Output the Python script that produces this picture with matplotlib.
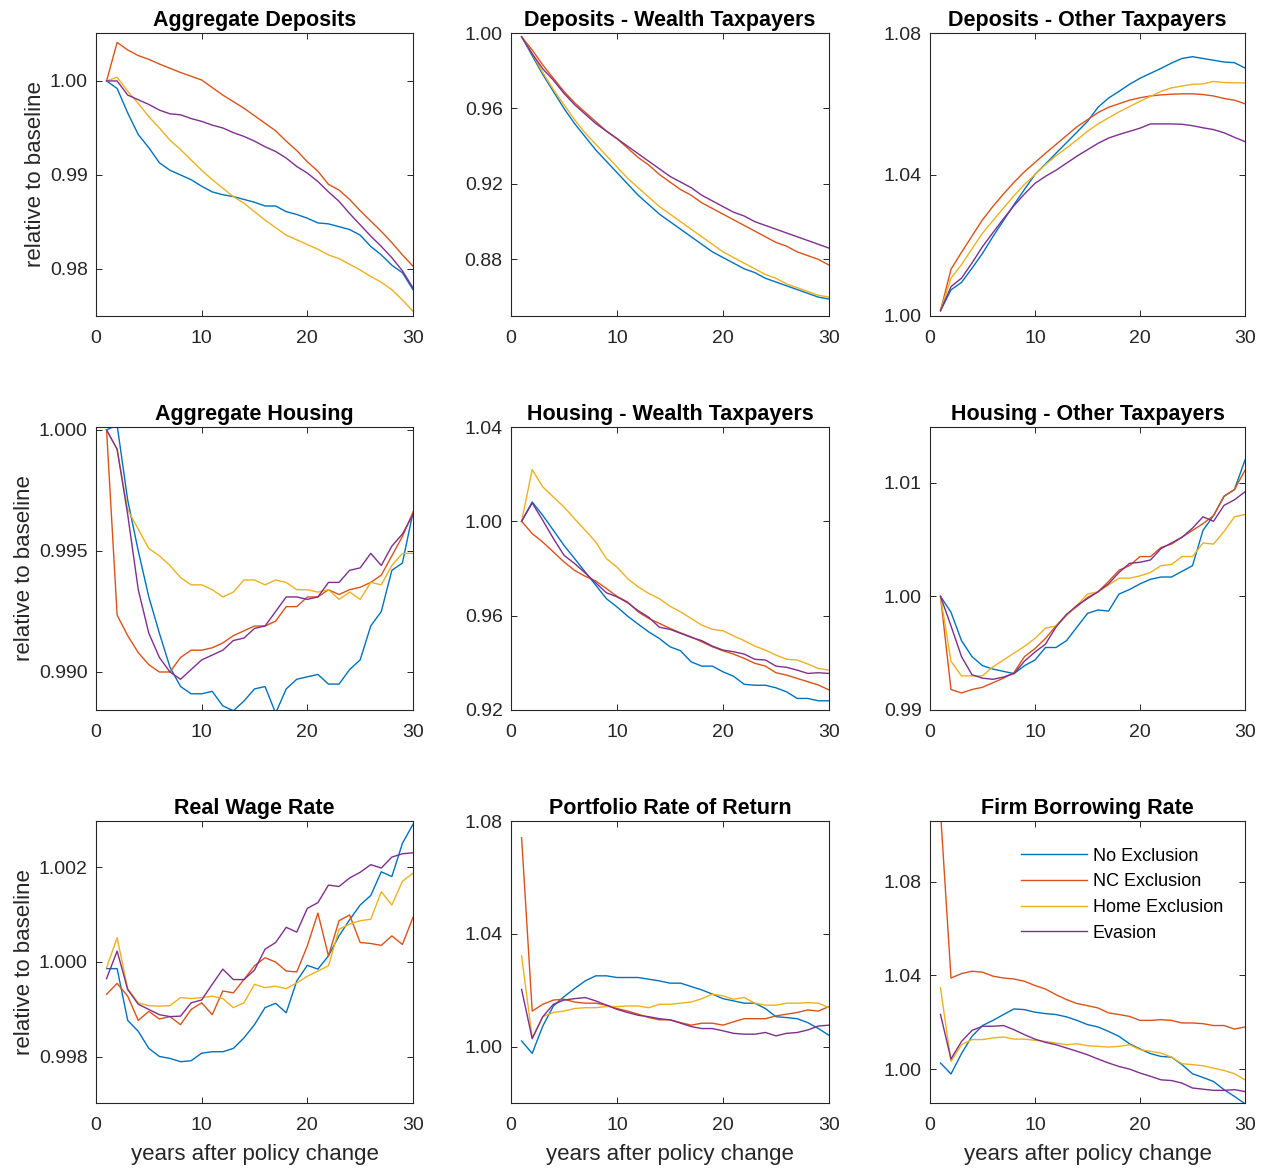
import matplotlib
matplotlib.use("Agg")
import matplotlib.pyplot as plt
from matplotlib.ticker import FormatStrFormatter

plt.rcParams['font.family'] = ['Liberation Sans', 'DejaVu Sans']

years = list(range(1, 31))
series_names = ["No Exclusion", "NC Exclusion", "Home Exclusion", "Evasion"]
colors = ["#0072BD", "#D95319", "#EDB120", "#7E2F8E"]

# ---- Aggregate Deposits ----
agg_dep_no = [1.0000, 0.9992, 0.9966, 0.9943, 0.9929, 0.9913, 0.9905, 0.9900, 0.9895, 0.9888,
              0.9882, 0.9879, 0.9877, 0.9874, 0.9871, 0.9867, 0.9867, 0.9861, 0.9858, 0.9854,
              0.9849, 0.9848, 0.9845, 0.9842, 0.9836, 0.9824, 0.9815, 0.9804, 0.9796, 0.9778]
agg_dep_nc = [1.0000, 1.0041, 1.0033, 1.0027, 1.0023, 1.0018, 1.00135, 1.0009, 1.0005, 1.0001,
              0.9993, 0.9985, 0.9978, 0.9971, 0.9963, 0.9955, 0.9947, 0.9936, 0.9926, 0.9914,
              0.9904, 0.9890, 0.9884, 0.9874, 0.9862, 0.9851, 0.9840, 0.9828, 0.9815, 0.9803]
agg_dep_home = [1.0000, 1.0004, 0.9989, 0.9976, 0.9962, 0.9950, 0.9937, 0.9927, 0.9916, 0.9905,
                0.9895, 0.9886, 0.9877, 0.9870, 0.9861, 0.9852, 0.9844, 0.9836, 0.9831, 0.9826,
                0.9821, 0.9815, 0.9811, 0.9805, 0.9799, 0.9792, 0.9786, 0.9778, 0.9767, 0.9755]
agg_dep_ev = [1.0000, 1.0000, 0.9985, 0.9980, 0.9975, 0.9969, 0.9965, 0.9964, 0.9960, 0.9957,
              0.9953, 0.9950, 0.9945, 0.9941, 0.9936, 0.9930, 0.9925, 0.9918, 0.9909, 0.9902,
              0.9893, 0.9882, 0.9872, 0.9859, 0.9847, 0.9835, 0.9824, 0.9812, 0.9798, 0.9780]

# ---- Deposits - Wealth Taxpayers ----
dep_w_no = [0.998, 0.988, 0.978, 0.969, 0.960, 0.952, 0.945, 0.938, 0.932, 0.926,
            0.920, 0.914, 0.909, 0.904, 0.900, 0.896, 0.892, 0.888, 0.884, 0.881,
            0.878, 0.875, 0.873, 0.870, 0.868, 0.866, 0.864, 0.862, 0.860, 0.859]
dep_w_nc = [0.998, 0.991, 0.983, 0.976, 0.969, 0.963, 0.958, 0.953, 0.948, 0.944,
            0.939, 0.934, 0.930, 0.925, 0.921, 0.917, 0.914, 0.910, 0.907, 0.904,
            0.901, 0.898, 0.895, 0.892, 0.889, 0.887, 0.884, 0.882, 0.880, 0.877]
dep_w_home = [0.998, 0.989, 0.979, 0.970, 0.962, 0.954, 0.947, 0.941, 0.935, 0.929,
              0.923, 0.918, 0.913, 0.908, 0.904, 0.900, 0.896, 0.892, 0.888, 0.884,
              0.881, 0.878, 0.875, 0.872, 0.870, 0.867, 0.865, 0.863, 0.861, 0.860]
dep_w_ev = [0.998, 0.989, 0.981, 0.975, 0.968, 0.962, 0.957, 0.952, 0.948, 0.944,
            0.940, 0.936, 0.932, 0.928, 0.924, 0.921, 0.918, 0.914, 0.911, 0.908,
            0.905, 0.903, 0.900, 0.898, 0.896, 0.894, 0.892, 0.890, 0.888, 0.886]

# ---- Deposits - Other Taxpayers ----
dep_o_no = [1.0015, 1.0074, 1.0095, 1.0135, 1.0177, 1.0225, 1.0270, 1.0315, 1.0358, 1.0400,
            1.0430, 1.0460, 1.0490, 1.0520, 1.0550, 1.0590, 1.0616, 1.0635, 1.0655, 1.0672,
            1.0686, 1.0700, 1.0715, 1.0728, 1.0733, 1.0728, 1.0723, 1.0718, 1.0716, 1.0701]
dep_o_nc = [1.0015, 1.0132, 1.0180, 1.0226, 1.0272, 1.0310, 1.0345, 1.0378, 1.0408, 1.0434,
            1.0460, 1.0485, 1.0510, 1.0535, 1.0555, 1.0575, 1.0590, 1.0600, 1.0610, 1.0617,
            1.0622, 1.0625, 1.0627, 1.0628, 1.0628, 1.0626, 1.0622, 1.0615, 1.0610, 1.0600]
dep_o_home = [1.0015, 1.0107, 1.0145, 1.0190, 1.0234, 1.0270, 1.0305, 1.0340, 1.0372, 1.0400,
              1.0428, 1.0453, 1.0475, 1.0498, 1.0522, 1.0543, 1.0560, 1.0577, 1.0592, 1.0607,
              1.0621, 1.0635, 1.0645, 1.0650, 1.0655, 1.0656, 1.0663, 1.0660, 1.0659, 1.0659]
dep_o_ev = [1.0015, 1.0083, 1.0107, 1.0150, 1.0196, 1.0236, 1.0275, 1.0312, 1.0345, 1.0375,
            1.0395, 1.0412, 1.0432, 1.0452, 1.0470, 1.0488, 1.0503, 1.0513, 1.0522, 1.0531,
            1.0543, 1.0543, 1.0543, 1.0542, 1.0538, 1.0532, 1.0527, 1.0518, 1.0505, 1.0493]

# ---- Aggregate Housing ----
agg_h_no = [1.0000, 1.0002, 0.9971, 0.9950, 0.9931, 0.9916, 0.9902, 0.9894, 0.9891, 0.9891,
            0.9892, 0.9886, 0.9884, 0.9888, 0.9893, 0.9894, 0.9883, 0.9893, 0.9897, 0.9898,
            0.9899, 0.9895, 0.9895, 0.9901, 0.9905, 0.9919, 0.9925, 0.9942, 0.9945, 0.9966]
agg_h_nc = [1.0000, 0.99235, 0.9915, 0.9908, 0.9903, 0.9900, 0.9900, 0.9906, 0.9909, 0.9909,
            0.9910, 0.9912, 0.9915, 0.9917, 0.9919, 0.9919, 0.9921, 0.9927, 0.9927, 0.9931,
            0.9931, 0.9934, 0.9932, 0.9934, 0.9935, 0.9937, 0.9940, 0.9948, 0.9956, 0.9966]
agg_h_home = [1.0000, 0.9992, 0.9967, 0.9959, 0.9951, 0.9948, 0.9944, 0.9939, 0.9936, 0.9936,
              0.9934, 0.9931, 0.9933, 0.9938, 0.9938, 0.9936, 0.9938, 0.9937, 0.9934, 0.9934,
              0.9933, 0.9934, 0.9930, 0.9933, 0.9930, 0.9937, 0.9936, 0.9944, 0.9949, 0.9949]
agg_h_ev = [1.0000, 0.9992, 0.9965, 0.9934, 0.9916, 0.9906, 0.9900, 0.9897, 0.9901, 0.9905,
            0.9907, 0.9909, 0.9913, 0.9914, 0.9918, 0.9919, 0.9925, 0.9931, 0.9931, 0.9930,
            0.9931, 0.9937, 0.9937, 0.9942, 0.9943, 0.9949, 0.9944, 0.9952, 0.9957, 0.9965]

# ---- Housing - Wealth Taxpayers ----
h_w_no = [1.0000, 1.0082, 1.0025, 0.9962, 0.9898, 0.9842, 0.9785, 0.9729, 0.9672, 0.9637,
          0.9598, 0.9564, 0.9531, 0.9503, 0.9468, 0.9451, 0.9404, 0.9386, 0.9386, 0.9362,
          0.9343, 0.9309, 0.9305, 0.9305, 0.9294, 0.9277, 0.9249, 0.9249, 0.9239, 0.9239]
h_w_nc = [1.0000, 0.9948, 0.9912, 0.9870, 0.9828, 0.9792, 0.9767, 0.9747, 0.9715, 0.9682,
          0.9658, 0.9616, 0.9588, 0.9567, 0.9546, 0.9527, 0.9510, 0.9489, 0.9468, 0.9451,
          0.9437, 0.9419, 0.9398, 0.9386, 0.9358, 0.9348, 0.9334, 0.9320, 0.9306, 0.9285]
h_w_home = [1.0000, 1.0219, 1.0146, 1.0103, 1.0061, 1.0011, 0.9962, 0.9912, 0.9842, 0.9806,
            0.9757, 0.9722, 0.9694, 0.9672, 0.9640, 0.9616, 0.9588, 0.9560, 0.9542, 0.9536,
            0.9514, 0.9494, 0.9471, 0.9454, 0.9433, 0.9415, 0.9412, 0.9395, 0.9376, 0.9369]
h_w_ev = [1.0000, 1.0078, 1.0004, 0.9927, 0.9856, 0.9821, 0.9781, 0.9739, 0.9697, 0.9680,
          0.9655, 0.9621, 0.9593, 0.9551, 0.9542, 0.9525, 0.9508, 0.9494, 0.9471, 0.9454,
          0.9447, 0.9437, 0.9415, 0.9412, 0.9386, 0.9381, 0.9369, 0.9355, 0.9358, 0.9355]

# ---- Housing - Other Taxpayers ----
h_o_no = [1.0000, 0.9986, 0.9961, 0.9947, 0.9939, 0.9936, 0.9934, 0.9932, 0.9939, 0.9944,
          0.9955, 0.9955, 0.9961, 0.9973, 0.9985, 0.9988, 0.9987, 1.0002, 1.0006, 1.0011,
          1.0015, 1.0017, 1.0017, 1.0022, 1.0027, 1.0058, 1.0071, 1.0088, 1.0094, 1.0120]
h_o_nc = [1.0000, 0.9918, 0.9915, 0.9918, 0.9920, 0.9924, 0.9928, 0.9933, 0.9947, 0.9954,
          0.9963, 0.9974, 0.9984, 0.9991, 0.9999, 1.0004, 1.0013, 1.0023, 1.0027, 1.0035,
          1.0035, 1.0043, 1.0046, 1.0052, 1.0058, 1.0064, 1.0071, 1.0088, 1.0094, 1.0111]
h_o_home = [1.0000, 0.9943, 0.9930, 0.9930, 0.9930, 0.9938, 0.9944, 0.9950, 0.9956, 0.9963,
            0.9972, 0.9974, 0.9983, 0.9992, 1.0002, 1.0004, 1.0010, 1.0016, 1.0016, 1.0018,
            1.0021, 1.0027, 1.0028, 1.0035, 1.0035, 1.0047, 1.0046, 1.0057, 1.0070, 1.0072]
h_o_ev = [1.0000, 0.9974, 0.9947, 0.9931, 0.9928, 0.9927, 0.9929, 0.9932, 0.9943, 0.9951,
          0.9958, 0.9973, 0.9984, 0.9992, 0.9998, 1.0004, 1.0011, 1.0021, 1.0029, 1.0030,
          1.0032, 1.0042, 1.0047, 1.0052, 1.0060, 1.0070, 1.0066, 1.0080, 1.0085, 1.0092]

# ---- Real Wage Rate ----
wage_no = [0.99986, 0.99986, 0.99877, 0.99854, 0.99818, 0.99801, 0.99797, 0.99790, 0.99792, 0.99808,
           0.99811, 0.99811, 0.99818, 0.99840, 0.99868, 0.99904, 0.99913, 0.99893, 0.99960, 0.99993,
           0.99985, 1.00013, 1.00055, 1.00089, 1.00120, 1.00140, 1.00190, 1.00180, 1.00250, 1.00290]
wage_nc = [0.99932, 0.99955, 0.99928, 0.99877, 0.99896, 0.99880, 0.99885, 0.99868, 0.99900, 0.99914,
           0.99889, 0.99939, 0.99935, 0.99963, 0.99992, 1.00009, 1.00000, 0.99981, 0.99979, 1.00034,
           1.00103, 1.00013, 1.00087, 1.00099, 1.00041, 1.00039, 1.00035, 1.00055, 1.00037, 1.00094]
wage_home = [0.99988, 1.00051, 0.99944, 0.99914, 0.99908, 0.99907, 0.99908, 0.99925, 0.99923, 0.99925,
             0.99928, 0.99923, 0.99904, 0.99914, 0.99953, 0.99946, 0.99949, 0.99944, 0.99956, 0.99970,
             0.99981, 0.99992, 1.00069, 1.00080, 1.00087, 1.00090, 1.00148, 1.00120, 1.00170, 1.00187]
wage_ev = [0.99965, 1.00023, 0.99942, 0.99911, 0.99900, 0.99889, 0.99885, 0.99886, 0.99914, 0.99920,
           0.99953, 0.99985, 0.99963, 0.99963, 0.99983, 1.00027, 1.00041, 1.00073, 1.00063, 1.00113,
           1.00125, 1.00162, 1.00159, 1.00177, 1.00189, 1.00205, 1.00198, 1.00221, 1.00228, 1.00230]

# ---- Portfolio Rate of Return ----
port_no = [1.0020, 0.9976, 1.0073, 1.0144, 1.0177, 1.0206, 1.0233, 1.0251, 1.0251, 1.0245,
           1.0245, 1.0245, 1.0239, 1.0233, 1.0225, 1.0225, 1.0213, 1.0201, 1.0186, 1.0170,
           1.0162, 1.0154, 1.0154, 1.0135, 1.0106, 1.0103, 1.0099, 1.0085, 1.0064, 1.0040]
port_nc = [1.0741, 1.0126, 1.0150, 1.0165, 1.0168, 1.0158, 1.0154, 1.0154, 1.0147, 1.0135,
           1.0126, 1.0115, 1.0103, 1.0095, 1.0095, 1.0085, 1.0076, 1.0083, 1.0083, 1.0076,
           1.0088, 1.0099, 1.0099, 1.0099, 1.0109, 1.0115, 1.0121, 1.0130, 1.0126, 1.0142]
port_home = [1.0322, 1.0032, 1.0106, 1.0121, 1.0126, 1.0135, 1.0138, 1.0138, 1.0142, 1.0142,
             1.0144, 1.0144, 1.0138, 1.0150, 1.0150, 1.0154, 1.0158, 1.0170, 1.0186, 1.0180,
             1.0168, 1.0174, 1.0154, 1.0147, 1.0147, 1.0154, 1.0154, 1.0156, 1.0154, 1.0138]
port_ev = [1.0203, 1.0028, 1.0106, 1.0150, 1.0165, 1.0170, 1.0174, 1.0162, 1.0147, 1.0132,
           1.0121, 1.0111, 1.0106, 1.0099, 1.0095, 1.0083, 1.0071, 1.0064, 1.0064, 1.0056,
           1.0047, 1.0044, 1.0044, 1.0050, 1.0038, 1.0047, 1.0050, 1.0059, 1.0073, 1.0076]

# ---- Firm Borrowing Rate ----
firm_no = [1.0026, 0.9979, 1.0066, 1.0140, 1.0186, 1.0208, 1.0233, 1.0257, 1.0254, 1.0243,
           1.0237, 1.0233, 1.0223, 1.0208, 1.0190, 1.0180, 1.0161, 1.0140, 1.0108, 1.0086,
           1.0066, 1.0054, 1.0051, 1.0019, 0.9980, 0.9964, 0.9947, 0.9912, 0.9883, 0.9852]
firm_nc = [1.1100, 1.0389, 1.0408, 1.0418, 1.0414, 1.0397, 1.0389, 1.0385, 1.0375, 1.0357,
           1.0342, 1.0318, 1.0297, 1.0280, 1.0271, 1.0261, 1.0240, 1.0233, 1.0225, 1.0208,
           1.0208, 1.0211, 1.0208, 1.0197, 1.0197, 1.0194, 1.0186, 1.0186, 1.0171, 1.0180]
firm_home = [1.0347, 1.0033, 1.0104, 1.0126, 1.0126, 1.0133, 1.0137, 1.0128, 1.0128, 1.0123,
             1.0118, 1.0111, 1.0104, 1.0108, 1.0100, 1.0097, 1.0094, 1.0097, 1.0104, 1.0083,
             1.0076, 1.0068, 1.0051, 1.0023, 1.0019, 1.0014, 1.0004, 0.9994, 0.9980, 0.9954]
firm_ev = [1.0233, 1.0043, 1.0118, 1.0165, 1.0183, 1.0183, 1.0186, 1.0168, 1.0147, 1.0128,
           1.0114, 1.0104, 1.0090, 1.0076, 1.0061, 1.0043, 1.0026, 1.0011, 1.0000, 0.9983,
           0.9969, 0.9954, 0.9951, 0.9940, 0.9919, 0.9914, 0.9909, 0.9909, 0.9912, 0.9904]

titles = ["Aggregate Deposits", "Deposits - Wealth Taxpayers", "Deposits - Other Taxpayers",
          "Aggregate Housing", "Housing - Wealth Taxpayers", "Housing - Other Taxpayers",
          "Real Wage Rate", "Portfolio Rate of Return", "Firm Borrowing Rate"]
panel_data = [
    [agg_dep_no, agg_dep_nc, agg_dep_home, agg_dep_ev],
    [dep_w_no, dep_w_nc, dep_w_home, dep_w_ev],
    [dep_o_no, dep_o_nc, dep_o_home, dep_o_ev],
    [agg_h_no, agg_h_nc, agg_h_home, agg_h_ev],
    [h_w_no, h_w_nc, h_w_home, h_w_ev],
    [h_o_no, h_o_nc, h_o_home, h_o_ev],
    [wage_no, wage_nc, wage_home, wage_ev],
    [port_no, port_nc, port_home, port_ev],
    [firm_no, firm_nc, firm_home, firm_ev],
]
ylims = [(0.9750, 1.0051), (0.85, 1.00), (1.00, 1.08),
         (0.98843, 1.00012), (0.92, 1.04), (0.99, 1.0149),
         (0.99703, 1.00297), (0.98, 1.08), (0.9855, 1.106)]
yticks = [[0.98, 0.99, 1.00], [0.88, 0.92, 0.96, 1.00], [1.00, 1.04, 1.08],
          [0.990, 0.995, 1.000], [0.92, 0.96, 1.00, 1.04], [0.99, 1.00, 1.01],
          [0.998, 1.000, 1.002], [1.00, 1.04, 1.08], [1.00, 1.04, 1.08]]
yfmt = ['%.2f', '%.2f', '%.2f', '%.3f', '%.2f', '%.2f', '%.3f', '%.2f', '%.2f']
xticks = [0, 10, 20, 30]

W, H = 1274, 1169
fig = plt.figure(figsize=(W / 100, H / 100), dpi=100)
col_px = [(96, 413), (511, 829), (930, 1245)]
row_px = [(33, 316), (427, 710), (821, 1103)]

axc = '#262626'
for i in range(9):
    r, c = divmod(i, 3)
    l, rr = col_px[c]
    t, b = row_px[r]
    ax = fig.add_axes([l / W, 1 - b / H, (rr - l) / W, (b - t) / H])
    for s, col, name in zip(panel_data[i], colors, series_names):
        ax.plot(years, s, color=col, lw=1.0, label=name)
    ax.set_xlim(0, 30)
    ax.set_ylim(*ylims[i])
    ax.set_xticks(xticks)
    ax.set_yticks(yticks[i])
    ax.yaxis.set_major_formatter(FormatStrFormatter(yfmt[i]))
    ax.tick_params(direction='in', top=True, right=True, length=4, width=0.7,
                   labelsize=14, colors=axc, labelcolor=axc)
    ax.tick_params(axis='x', pad=10)
    ax.tick_params(axis='y', pad=6)
    for sp in ax.spines.values():
        sp.set_color(axc)
        sp.set_linewidth(0.8)
    ax.set_title(titles[i], fontsize=15.5, fontweight='bold', color='black', pad=5)
    if c == 0:
        ax.set_ylabel("relative to baseline", fontsize=16, color=axc, labelpad=2.5)
    if r == 2:
        ax.set_xlabel("years after policy change", fontsize=16, color=axc, labelpad=7)
    if i == 8:
        ax.legend(loc='upper left', bbox_to_anchor=(0.289, 0.906), frameon=False,
                  fontsize=13, handlelength=3.65, handletextpad=0.33,
                  labelspacing=0.48, borderpad=0, borderaxespad=0)

fig.savefig("out.png", dpi=100)
